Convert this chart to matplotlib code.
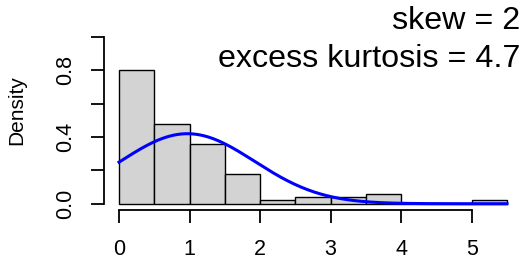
import matplotlib
matplotlib.use("Agg")
import matplotlib.pyplot as plt
import numpy as np

plt.rcParams['font.family'] = ['Liberation Sans', 'DejaVu Sans']

# histogram bins (left edges) and densities
bin_left = [0.0, 0.5, 1.0, 1.5, 2.0, 2.5, 3.0, 3.5, 4.0, 4.5, 5.0]
density = [0.80, 0.48, 0.36, 0.18, 0.02, 0.04, 0.04, 0.06, 0.0, 0.0, 0.02]
bin_width = 0.5

# fitted normal curve parameters
mu = 0.97
sd = 0.95

skew_txt = "skew = 2"
kurt_txt = "excess kurtosis = 4.7"

W, H = 524, 263
fig = plt.figure(figsize=(W / 100, H / 100), dpi=100)
left, right, top, bottom = 103.5, 522.5, 30.3, 210.4
ax = fig.add_axes([left / W, 1 - bottom / H, (right - left) / W, (bottom - top) / H])

ax.bar(bin_left, density, width=bin_width, align='edge',
       color='#D3D3D3', edgecolor='black', linewidth=1.0, zorder=1)

x = np.linspace(0, 5.5, 300)
y = np.exp(-0.5 * ((x - mu) / sd) ** 2) / (sd * np.sqrt(2 * np.pi))
ax.plot(x, y, color='#0000FF', lw=2.2, zorder=2)

ax.set_xlim(-0.22, 5.72)
ax.set_ylim(-0.04, 1.04)

for s in ['top', 'right']:
    ax.spines[s].set_visible(False)
ax.spines['left'].set_bounds(0, 1)
ax.spines['bottom'].set_bounds(0, 5)
for s in ['left', 'bottom']:
    ax.spines[s].set_linewidth(1.3)

ax.set_xticks([0, 1, 2, 3, 4, 5])
ax.set_yticks([0, 0.2, 0.4, 0.6, 0.8, 1.0])
ax.set_yticklabels(['0.0', '', '0.4', '', '0.8', ''], rotation=90, va='center')
ax.tick_params(axis='both', length=9.5, width=1.3, labelsize=15.5)
ax.tick_params(axis='x', pad=11)
ax.tick_params(axis='y', pad=10)

fig.text(17 / W, 1 - 110 / H, "Density", rotation=90, ha='center', va='center', fontsize=15)

fig.text(520 / W, 1 - 29 / H, skew_txt, ha='right', va='baseline', fontsize=23.2)
fig.text(520 / W, 1 - 67 / H, kurt_txt, ha='right', va='baseline', fontsize=23.2)

fig.savefig("out.png", dpi=100)
